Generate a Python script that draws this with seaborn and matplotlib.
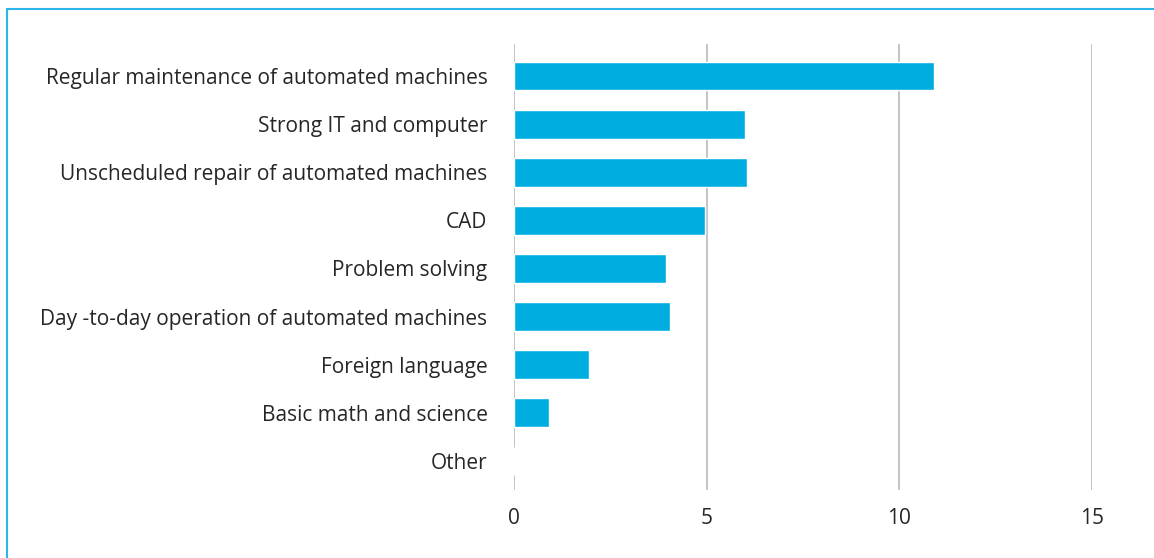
import matplotlib
matplotlib.use("Agg")
import matplotlib.pyplot as plt
import seaborn as sns
import pandas as pd
from matplotlib.lines import Line2D

categories = [
    "Regular maintenance of automated machines",
    "Strong IT and computer",
    "Unscheduled repair of automated machines",
    "CAD",
    "Problem solving",
    "Day -to-day operation of automated machines",
    "Foreign language",
    "Basic math and science",
    "Other",
]
values = [10.9, 6.0, 6.05, 4.95, 3.95, 4.05, 1.95, 0.9, 0.0]
xticks = [0, 5, 10, 15]

sns.set_theme(style="white")
plt.rcParams['font.family'] = ['Open Sans', 'DejaVu Sans']

df = pd.DataFrame({"cat": categories, "val": values})

fig = plt.figure(figsize=(11.54, 5.58), dpi=100)
ax = fig.add_axes([514/1154, 1 - 490/558, (1092-514)/1154, (490-44)/558])

sns.barplot(data=df, x="val", y="cat", ax=ax, color="#00ADE1", width=0.6,
            saturation=1, orient="h", order=categories)

ax.set_xlim(0, 15)
ax.set_ylim(8.603, -0.665)
ax.set_xticks(xticks)
ax.set_xticklabels([str(t) for t in xticks])
ax.set_xlabel("")
ax.set_ylabel("")
for s in ax.spines.values():
    s.set_visible(False)
ax.grid(axis="x", color="#BFBFBF", linewidth=1.3)
ax.grid(axis="y", visible=False)
ax.set_axisbelow(True)
ax.tick_params(axis="y", length=0, pad=19, labelsize=15, labelcolor="#262626")
ax.tick_params(axis="x", length=0, pad=13, labelsize=15, labelcolor="#262626")

# figure frame (top and left light-blue lines)
fig.add_artist(Line2D([7/1154, 7/1154], [0, 1 - 9/558], color="#2BB5EA", linewidth=1.5,
                      transform=fig.transFigure))
fig.add_artist(Line2D([7/1154, 1], [1 - 9/558, 1 - 9/558], color="#2BB5EA", linewidth=1.5,
                      transform=fig.transFigure))

fig.savefig("out.png", dpi=100, facecolor="white")
